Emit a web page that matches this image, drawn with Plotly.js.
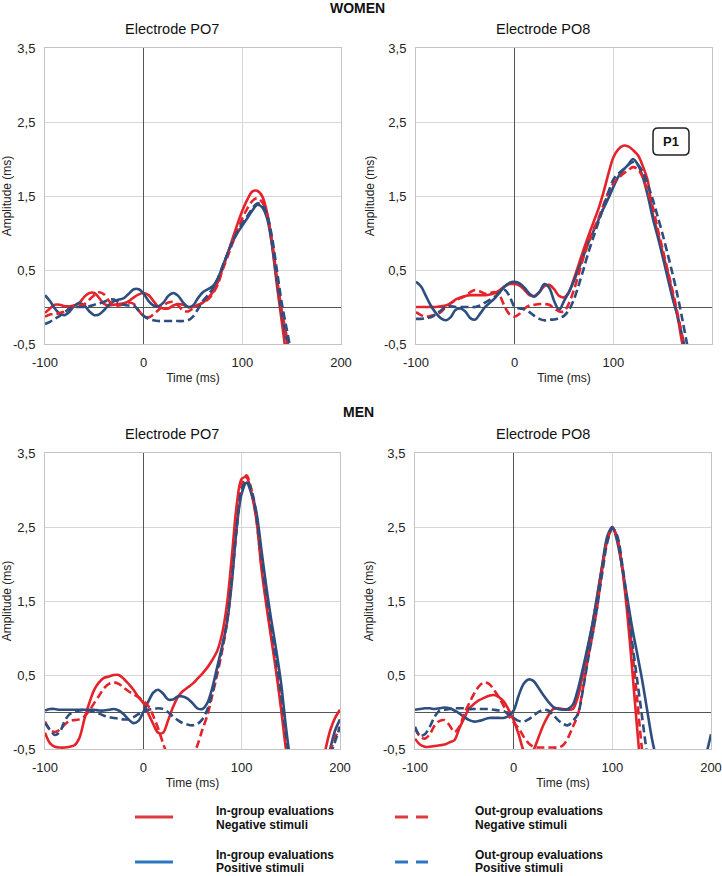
<!DOCTYPE html>
<html>
<head>
<meta charset="utf-8">
<script src="https://cdn.plot.ly/plotly-3.0.1.min.js"></script>
<style>html,body{margin:0;padding:0;background:#fff;}#chart{width:722px;height:876px;}</style>
</head>
<body>
<div id="chart"></div>
<script>
// ---------------- DATA ----------------
const TIME = [-100,-95,-90,-85,-80,-75,-70,-65,-60,-55,
  -50,-45,-40,-35,-30,-25,-20,-15,-10,-5,
  0,5,10,15,20,25,30,35,40,45,
  50,55,60,65,70,75,80,85,90,95,
  100,105,110,115,120,125,130,135,140,145,
  150,155,160,165,170,175,180,185,190,195,
  200];

const X_TICKS = [-100, 0, 100, 200];
const X_TICK_LABELS = ['-100', '0', '100', '200'];
const Y_TICKS = [-0.5, 0.5, 1.5, 2.5, 3.5];
const Y_TICK_LABELS = ['-0,5', '0,5', '1,5', '2,5', '3,5'];

const GROUP_TITLES = ['WOMEN', 'MEN'];
const PANEL_TITLES = ['Electrode PO7', 'Electrode PO8', 'Electrode PO7', 'Electrode PO8'];
const SERIES_LINE1 = ['In-group evaluations', 'In-group evaluations', 'Out-group evaluations', 'Out-group evaluations'];
const SERIES_LINE2 = ['Negative stimuli', 'Positive stimuli', 'Negative stimuli', 'Positive stimuli'];

// WOMEN, PO7
const W_PO7_IN_NEG = [-0.08,-0.02,0.03,0.03,0.01,0.01,0.02,0.06,0.14,0.19,
  0.19,0.12,0.04,0.02,0.03,0.04,0.05,0.08,0.13,0.17,
  0.19,0.16,0.08,0.0,-0.02,-0.02,0.02,0.04,0.03,0.0,
  0.0,0.03,0.06,0.12,0.2,0.33,0.52,0.72,0.92,1.12,
  1.3,1.45,1.56,1.57,1.5,1.28,0.85,0.3,-0.2,-0.7,
  -1.1,-1.4,-1.6,-1.7,-1.8,-1.8,-1.8,-1.8,-1.8,-1.8,
  -1.8];
const W_PO7_IN_POS = [0.16,0.08,-0.02,-0.09,-0.11,-0.06,0.02,0.05,0.02,-0.06,
  -0.11,-0.1,-0.04,0.03,0.08,0.1,0.12,0.18,0.24,0.24,
  0.18,0.08,0.02,0.01,0.06,0.15,0.19,0.15,0.06,0.0,
  0.02,0.12,0.2,0.24,0.28,0.38,0.55,0.72,0.88,1.0,
  1.1,1.2,1.3,1.38,1.35,1.2,0.85,0.35,-0.1,-0.45,
  -0.8,-1.1,-1.4,-1.6,-1.7,-1.8,-1.8,-1.8,-1.8,-1.8,
  -1.8];
const W_PO7_OUT_NEG = [-0.13,-0.1,-0.1,-0.08,-0.06,-0.02,0.02,0.02,0.04,0.1,
  0.16,0.2,0.17,0.08,0.02,0.02,0.04,0.06,0.04,-0.05,
  -0.12,-0.14,-0.1,-0.04,0.02,0.06,0.07,0.02,-0.05,-0.06,
  -0.02,0.02,0.06,0.1,0.18,0.3,0.5,0.68,0.86,1.03,
  1.2,1.33,1.43,1.47,1.42,1.26,0.9,0.4,-0.05,-0.4,
  -0.8,-1.1,-1.4,-1.6,-1.7,-1.8,-1.8,-1.8,-1.8,-1.8,
  -1.8];
const W_PO7_OUT_POS = [-0.23,-0.2,-0.16,-0.12,-0.07,-0.02,0.0,0.0,0.0,0.01,
  0.03,0.05,0.07,0.1,0.1,0.06,0.03,0.02,0.02,-0.05,
  -0.12,-0.16,-0.18,-0.19,-0.19,-0.19,-0.19,-0.19,-0.19,-0.18,
  -0.13,-0.03,0.08,0.16,0.25,0.38,0.55,0.72,0.88,1.02,
  1.13,1.23,1.33,1.4,1.38,1.25,0.95,0.5,0.05,-0.3,
  -0.65,-1.0,-1.3,-1.5,-1.7,-1.8,-1.8,-1.8,-1.8,-1.8,
  -1.8];

// WOMEN, PO8
const W_PO8_IN_NEG = [0.0,0.0,0.0,0.0,0.0,0.01,0.02,0.05,0.1,0.13,
  0.15,0.16,0.16,0.16,0.16,0.17,0.19,0.23,0.28,0.31,
  0.31,0.29,0.23,0.16,0.15,0.2,0.28,0.3,0.24,0.15,
  0.13,0.2,0.38,0.58,0.78,0.97,1.15,1.33,1.55,1.8,
  2.02,2.13,2.18,2.17,2.12,2.05,1.9,1.7,1.25,1.0,
  0.73,0.48,0.18,-0.12,-0.5,-0.8,-1.1,-1.4,-1.6,-1.7,
  -1.8];
const W_PO8_IN_POS = [0.34,0.28,0.15,0.02,-0.08,-0.15,-0.18,-0.14,-0.04,-0.02,
  -0.06,-0.15,-0.17,-0.09,0.0,0.06,0.12,0.2,0.28,0.33,
  0.34,0.32,0.26,0.18,0.14,0.2,0.31,0.26,0.08,-0.04,
  0.08,0.2,0.35,0.52,0.7,0.88,1.03,1.18,1.33,1.47,
  1.62,1.76,1.85,1.92,2.0,1.92,1.75,1.5,1.2,0.95,
  0.68,0.4,0.12,-0.12,-0.4,-0.7,-1.0,-1.3,-1.5,-1.7,
  -1.8];
const W_PO8_OUT_NEG = [-0.07,-0.11,-0.13,-0.12,-0.1,-0.07,0.0,0.05,0.09,0.12,
  0.15,0.2,0.23,0.21,0.18,0.19,0.2,0.15,0.0,-0.1,
  -0.13,-0.09,-0.02,0.02,0.03,0.04,0.04,0.03,-0.02,-0.06,
  -0.06,0.05,0.23,0.45,0.68,0.88,1.05,1.2,1.38,1.55,
  1.67,1.74,1.8,1.85,1.89,1.86,1.75,1.55,1.35,1.05,
  0.78,0.5,0.22,-0.08,-0.42,-0.75,-1.05,-1.35,-1.55,-1.7,
  -1.8];
const W_PO8_OUT_POS = [-0.16,-0.16,-0.15,-0.14,-0.1,-0.05,0.0,0.01,0.0,0.0,
  0.0,0.0,0.0,0.02,0.06,0.1,0.14,0.2,0.23,0.14,
  0.0,-0.02,-0.03,-0.07,-0.12,-0.16,-0.18,-0.17,-0.17,-0.15,
  -0.12,-0.04,0.1,0.3,0.52,0.75,0.95,1.15,1.35,1.55,
  1.72,1.8,1.86,1.92,1.96,1.92,1.82,1.65,1.45,1.22,
  0.98,0.72,0.45,0.16,-0.17,-0.52,-0.85,-1.15,-1.4,-1.6,
  -1.8];

// MEN, PO7
const M_PO7_IN_NEG = [-0.28,-0.42,-0.47,-0.48,-0.48,-0.47,-0.45,-0.35,-0.1,0.12,
  0.3,0.4,0.46,0.48,0.5,0.5,0.45,0.38,0.3,0.2,
  0.12,-0.02,-0.16,-0.28,-0.28,-0.12,0.06,0.2,0.28,0.33,
  0.38,0.45,0.52,0.6,0.7,0.82,1.05,1.45,2.1,2.8,
  3.15,3.17,2.95,2.6,1.95,1.45,1.0,0.55,0.05,-0.5,
  -0.9,-1.15,-1.25,-1.25,-1.2,-1.1,-0.85,-0.52,-0.25,-0.08,
  0.03];
const M_PO7_IN_POS = [0.02,0.04,0.04,0.03,0.03,0.03,0.03,0.03,0.03,0.03,
  0.03,0.02,0.02,0.03,0.04,0.02,-0.03,-0.1,-0.15,-0.12,
  0.0,0.14,0.26,0.3,0.25,0.17,0.17,0.21,0.21,0.18,
  0.12,0.05,0.04,0.12,0.32,0.6,0.88,1.2,1.75,2.5,
  2.95,3.1,2.95,2.7,2.2,1.7,1.25,0.85,0.4,-0.2,
  -0.7,-1.05,-1.25,-1.3,-1.3,-1.25,-1.1,-0.8,-0.5,-0.25,
  -0.1];
const M_PO7_OUT_NEG = [-0.13,-0.24,-0.27,-0.24,-0.17,-0.12,-0.11,-0.1,-0.06,0.02,
  0.12,0.22,0.32,0.38,0.4,0.38,0.33,0.28,0.24,0.2,
  0.15,0.08,-0.05,-0.22,-0.42,-0.6,-0.72,-0.78,-0.78,-0.72,
  -0.6,-0.45,-0.24,-0.05,0.22,0.5,0.82,1.2,1.8,2.5,
  3.05,3.2,3.0,2.6,2.0,1.5,1.05,0.6,0.1,-0.4,
  -0.85,-1.1,-1.25,-1.3,-1.3,-1.2,-1.05,-0.8,-0.55,-0.35,
  -0.2];
const M_PO7_OUT_POS = [-0.15,-0.24,-0.31,-0.27,-0.12,-0.03,0.0,0.02,0.03,0.02,
  0.01,-0.02,-0.05,-0.07,-0.08,-0.09,-0.1,-0.1,-0.07,-0.03,
  0.0,0.03,0.04,0.05,0.04,0.0,-0.06,-0.11,-0.15,-0.17,
  -0.18,-0.16,-0.1,0.03,0.25,0.55,0.85,1.22,1.8,2.5,
  3.0,3.12,3.0,2.65,2.1,1.6,1.15,0.7,0.25,-0.3,
  -0.75,-1.05,-1.25,-1.3,-1.3,-1.2,-1.05,-0.85,-0.6,-0.4,
  -0.2];

// MEN, PO8
const M_PO8_IN_NEG = [-0.36,-0.44,-0.47,-0.47,-0.46,-0.45,-0.44,-0.41,-0.38,-0.22,
  -0.08,0.05,0.11,0.16,0.19,0.22,0.23,0.2,0.14,0.03,
  -0.11,-0.3,-0.52,-0.62,-0.52,-0.35,-0.18,-0.05,0.04,0.05,
  0.04,0.03,0.04,0.2,0.5,0.85,1.2,1.6,2.0,2.35,
  2.5,2.35,1.95,1.35,0.6,-0.2,-0.9,-1.3,-1.5,-1.6,
  -1.6,-1.6,-1.6,-1.6,-1.6,-1.6,-1.6,-1.6,-1.6,-1.6,
  -1.6];
const M_PO8_IN_POS = [0.03,0.04,0.05,0.05,0.04,0.05,0.06,0.05,0.02,-0.02,
  -0.07,-0.11,-0.13,-0.12,-0.1,-0.08,-0.08,-0.08,-0.08,-0.05,
  0.02,0.22,0.38,0.44,0.42,0.33,0.23,0.14,0.07,0.04,
  0.03,0.04,0.1,0.3,0.58,0.88,1.2,1.58,2.0,2.38,
  2.5,2.3,1.95,1.55,1.15,0.8,0.45,0.05,-0.35,-0.65,
  -0.9,-1.1,-1.25,-1.3,-1.3,-1.25,-1.15,-1.0,-0.8,-0.58,
  -0.3];
const M_PO8_OUT_NEG = [-0.22,-0.33,-0.36,-0.3,-0.18,-0.12,-0.11,-0.18,-0.27,-0.2,
  -0.02,0.12,0.25,0.35,0.4,0.38,0.3,0.2,0.08,-0.05,
  -0.14,-0.22,-0.33,-0.42,-0.47,-0.48,-0.48,-0.48,-0.48,-0.48,
  -0.45,-0.35,-0.2,-0.04,0.3,0.7,1.05,1.45,1.95,2.32,
  2.48,2.35,1.95,1.45,0.85,0.2,-0.5,-1.0,-1.3,-1.5,
  -1.6,-1.6,-1.6,-1.6,-1.6,-1.6,-1.6,-1.6,-1.6,-1.6,
  -1.6];
const M_PO8_OUT_POS = [-0.2,-0.32,-0.3,-0.2,-0.06,0.02,0.03,0.04,0.05,0.05,
  0.05,0.04,0.04,0.04,0.04,0.04,0.03,0.02,0.01,-0.03,
  -0.08,-0.12,-0.13,-0.1,-0.05,0.0,0.03,0.02,-0.04,-0.11,
  -0.16,-0.18,-0.12,-0.03,0.28,0.68,1.05,1.45,1.9,2.3,
  2.48,2.38,2.0,1.5,0.95,0.45,-0.05,-0.55,-0.95,-1.25,
  -1.45,-1.55,-1.6,-1.6,-1.6,-1.6,-1.6,-1.6,-1.6,-1.6,
  -1.6];

// ---------------- STYLE / LAYOUT ----------------
const W = 722, H = 876;
const px = x => x / W;
const py = y => 1 - y / H;
const FONT = 'Arial, "Liberation Sans", sans-serif';
const RED = '#e4232b';
const NAVY = '#2d4e7e';
const LEG_RED = '#e03a3e';
const LEG_BLUE = '#2a78c0';
const DASH = '8px,4px';

const panels = [
  {data: [W_PO7_IN_NEG, W_PO7_IN_POS, W_PO7_OUT_NEG, W_PO7_OUT_POS], x: [45, 341], y: [48, 344]},
  {data: [W_PO8_IN_NEG, W_PO8_IN_POS, W_PO8_OUT_NEG, W_PO8_OUT_POS], x: [416, 712], y: [48, 344]},
  {data: [M_PO7_IN_NEG, M_PO7_IN_POS, M_PO7_OUT_NEG, M_PO7_OUT_POS], x: [45, 340], y: [453, 749]},
  {data: [M_PO8_IN_NEG, M_PO8_IN_POS, M_PO8_OUT_NEG, M_PO8_OUT_POS], x: [415, 711], y: [453, 749]}
];

// drawing order: red solid, blue solid, red dashed, blue dashed
const styles = [
  {color: RED, dash: 'solid'},
  {color: NAVY, dash: 'solid'},
  {color: RED, dash: DASH},
  {color: NAVY, dash: DASH}
];

const traces = [];
const layout = {
  width: W, height: H,
  margin: {l: 0, r: 0, t: 0, b: 0},
  paper_bgcolor: '#fff', plot_bgcolor: '#fff',
  showlegend: false,
  font: {family: FONT, size: 13, color: '#222'},
  annotations: [], shapes: []
};

panels.forEach((p, i) => {
  const n = i + 1;
  const xa = n === 1 ? 'x' : 'x' + n;
  const ya = n === 1 ? 'y' : 'y' + n;
  p.data.forEach((ys, k) => {
    traces.push({
      type: 'scatter', mode: 'lines', x: TIME, y: ys, xaxis: xa, yaxis: ya,
      name: SERIES_LINE1[k] + ' ' + SERIES_LINE2[k],
      line: {color: styles[k].color, width: 2.6, dash: styles[k].dash, shape: 'spline', smoothing: 0.9},
      hoverinfo: 'skip'
    });
  });
  const common = {
    showgrid: true, gridcolor: '#d6d6d6', gridwidth: 1,
    showline: true, mirror: true, linecolor: '#c4c4c4', linewidth: 1,
    ticks: '', automargin: false, fixedrange: true,
    zeroline: true, zerolinecolor: '#555', zerolinewidth: 1,
    tickfont: {family: FONT, size: 13, color: '#222'}
  };
  layout['xaxis' + (n === 1 ? '' : n)] = Object.assign({}, common, {
    domain: [px(p.x[0]), px(p.x[1])], anchor: ya,
    range: [-100, 200], tickmode: 'array', tickvals: X_TICKS, ticktext: X_TICK_LABELS,
    ticklabelstandoff: 6,
    title: {text: 'Time (ms)', font: {family: FONT, size: 12, color: '#222'}, standoff: 5}
  });
  layout['yaxis' + (n === 1 ? '' : n)] = Object.assign({}, common, {
    domain: [py(p.y[1]), py(p.y[0])], anchor: xa,
    range: [-0.5, 3.5], tickmode: 'array', tickvals: Y_TICKS, ticktext: Y_TICK_LABELS,
    ticklabelstandoff: 6,
    title: {text: 'Amplitude (ms)', font: {family: FONT, size: 12, color: '#222'}, standoff: 6}
  });
});

// group and panel titles
layout.annotations.push({text: '<b>' + GROUP_TITLES[0] + '</b>', x: px(357), y: py(8), xref: 'paper', yref: 'paper',
  showarrow: false, xanchor: 'center', yanchor: 'middle', font: {family: FONT, size: 14, color: '#111'}});
layout.annotations.push({text: '<b>' + GROUP_TITLES[1] + '</b>', x: px(358), y: py(412), xref: 'paper', yref: 'paper',
  showarrow: false, xanchor: 'center', yanchor: 'middle', font: {family: FONT, size: 14, color: '#111'}});
const titlePos = [[172, 29], [543, 29], [172, 434], [543, 434]];
PANEL_TITLES.forEach((t, i) => {
  layout.annotations.push({text: t, x: px(titlePos[i][0]), y: py(titlePos[i][1]), xref: 'paper', yref: 'paper',
    showarrow: false, xanchor: 'center', yanchor: 'middle', font: {family: FONT, size: 14.5, color: '#111'}});
});

// P1 label with rounded box
const bx0 = 653, bx1 = 689, by0 = 128, by1 = 155, r = 5;
const path = [
  'M', px(bx0 + r), py(by0), 'L', px(bx1 - r), py(by0),
  'Q', px(bx1), py(by0), px(bx1), py(by0 + r),
  'L', px(bx1), py(by1 - r),
  'Q', px(bx1), py(by1), px(bx1 - r), py(by1),
  'L', px(bx0 + r), py(by1),
  'Q', px(bx0), py(by1), px(bx0), py(by1 - r),
  'L', px(bx0), py(by0 + r),
  'Q', px(bx0), py(by0), px(bx0 + r), py(by0), 'Z'
].join(' ');
layout.shapes.push({type: 'path', path: path, xref: 'paper', yref: 'paper', line: {color: '#222', width: 1.5}, fillcolor: '#fff'});
layout.annotations.push({text: '<b>P1</b>', x: px((bx0 + bx1) / 2), y: py((by0 + by1) / 2), xref: 'paper', yref: 'paper',
  showarrow: false, xanchor: 'center', yanchor: 'middle', font: {family: FONT, size: 13, color: '#111'}});

// legend (drawn below the charts)
const legendItems = [
  {k: 0, color: LEG_RED, dash: 'solid', x0: 135, x1: 173, ly: 817, tx: 214, ty1: 811, ty2: 825},
  {k: 2, color: LEG_RED, dash: '13px,8px', x0: 395, x1: 428, ly: 817, tx: 473, ty1: 811, ty2: 825},
  {k: 1, color: LEG_BLUE, dash: 'solid', x0: 135, x1: 173, ly: 862, tx: 214, ty1: 855, ty2: 868},
  {k: 3, color: LEG_BLUE, dash: '13px,8px', x0: 395, x1: 428, ly: 862, tx: 473, ty1: 855, ty2: 868}
];
legendItems.forEach(it => {
  layout.shapes.push({type: 'line', xref: 'paper', yref: 'paper', x0: px(it.x0), x1: px(it.x1), y0: py(it.ly), y1: py(it.ly),
    line: {color: it.color, width: 3, dash: it.dash}});
  [[SERIES_LINE1[it.k], it.ty1], [SERIES_LINE2[it.k], it.ty2]].forEach(([txt, ty]) => {
    layout.annotations.push({text: '<b>' + txt + '</b>', x: px(it.tx), y: py(ty), xref: 'paper', yref: 'paper',
      showarrow: false, xanchor: 'left', yanchor: 'middle', align: 'left',
      font: {family: FONT, size: 12, color: '#111'}});
  });
});

Plotly.newPlot('chart', traces, layout, {staticPlot: true, displayModeBar: false});
</script>
</body>
</html>
